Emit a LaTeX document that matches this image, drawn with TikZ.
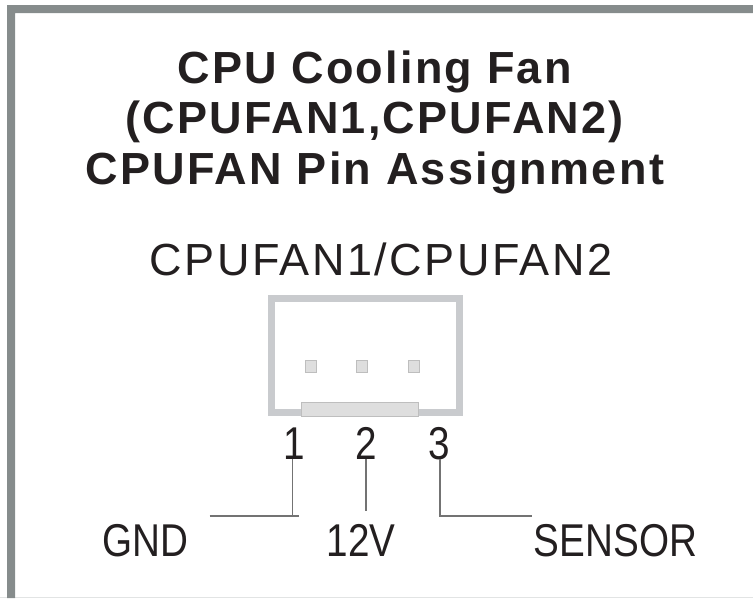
\documentclass[tikz,border=0pt]{standalone}
\usepackage{fontspec}
\setmainfont{Liberation Sans}
\newfontfamily\titlefont[LetterSpace=5]{Liberation Sans Bold}
\newfontfamily\headfont[LetterSpace=5.5]{Liberation Sans}
\newfontfamily\narrowfont[FakeStretch=0.84]{Liberation Sans}
\usetikzlibrary{positioning}
\usetikzlibrary{calc}

\definecolor{framegray}{HTML}{868C8C}
\definecolor{edgegray}{HTML}{E2E4E4}
\definecolor{shellgray}{HTML}{C9CBCE}
\definecolor{pingray}{HTML}{DEDEDE}
\definecolor{pinedge}{HTML}{BEBEBE}
\definecolor{textblack}{HTML}{231F20}

\tikzset{
	titletext/.style={inner sep=0pt, anchor=base, text=textblack, font=\titlefont\fontsize{45}{45}\selectfont},
	headtext/.style={inner sep=0pt, anchor=base, text=textblack, font=\headfont\fontsize{45}{45}\selectfont},
	pintext/.style={inner sep=0pt, anchor=base, text=textblack, font=\narrowfont\fontsize{46}{46}\selectfont},
	pinbox/.style={draw=pinedge, fill=pingray, line width=0.8pt, minimum width=11pt, minimum height=12pt, inner sep=0pt},
	leadline/.style={draw=black!55, line width=1.2pt},
}

\begin{document}
\begin{tikzpicture}[x=1pt, y=-1pt]
	
	% ------------------------------------------------
	% Ensure the dimensions of graphic are appropriate
	\useasboundingbox (0,0) rectangle (753,598);
	
	% ------------------------------------------------
	% Outer frame
	\fill[edgegray] (0,597) rectangle (753,598);
	\fill[framegray] (753,5) -- (7,5) -- (7,598) -- (15,598) -- (15,13) -- (753,13) -- cycle;
	
	% ----------------
	% Title
	\node[titletext] (TitleA) at (374.5,83) {CPU Cooling Fan};
	\node[titletext] (TitleB) at (374.5,133) {(CPUFAN1,CPUFAN2)};
	\node[titletext] (TitleC) at (375,184) {CPUFAN Pin Assignment};
	\node[headtext] (Head) at (381,275) {CPUFAN1/CPUFAN2};
	
	% ----------------
	% Connector shell
	\draw[draw=shellgray, line width=7pt] (271.5,298.5) rectangle (459.5,412.5);
	\node[pinbox] (PinA) at (311,366.5) {};
	\node[pinbox] (PinB) at (362,366.5) {};
	\node[pinbox] (PinC) at (413.5,366.5) {};
	\node[draw=pinedge, fill=pingray, line width=0.8pt, minimum width=117pt, minimum height=14pt, inner sep=0pt] (Latch) at (360,409) {};
	
	% ----------------
	% Pin numbers and names
	\node[pintext] (NumA) at (294,459) {1};
	\node[pintext] (NumB) at (366,459) {2};
	\node[pintext] (NumC) at (439,459) {3};
	\node[pintext] (Gnd) at (145,556) {GND};
	\node[pintext] (Vcc) at (361,556) {12V};
	\node[pintext] (Sensor) at (615.5,556) {SENSOR};
	
	% ------------------------------------------------
	% Relevant coordinates
	\coordinate (LeadA) at (292.5,459);
	\path (LeadA) +(0,57) coordinate (KneeA);
	\path (KneeA) +(-83,0) coordinate (EndA);
	\path (KneeA) +(6,0) coordinate (StubA);
	
	\coordinate (LeadB) at (366,459);
	\path (LeadB) +(0,52) coordinate (EndB);
	
	\coordinate (LeadC) at (440,459);
	\path (LeadC) +(0,57) coordinate (KneeC);
	\path (KneeC) +(92,0) coordinate (EndC);
	
	% ----------------
	% Leads
	\draw[leadline] (LeadA) -- (KneeA);
	\draw[leadline] (EndA) -- (StubA);
	\draw[leadline] (LeadB) -- (EndB);
	\draw[leadline] (LeadC) -- (KneeC) -- (EndC);
	
\end{tikzpicture}
\end{document}
